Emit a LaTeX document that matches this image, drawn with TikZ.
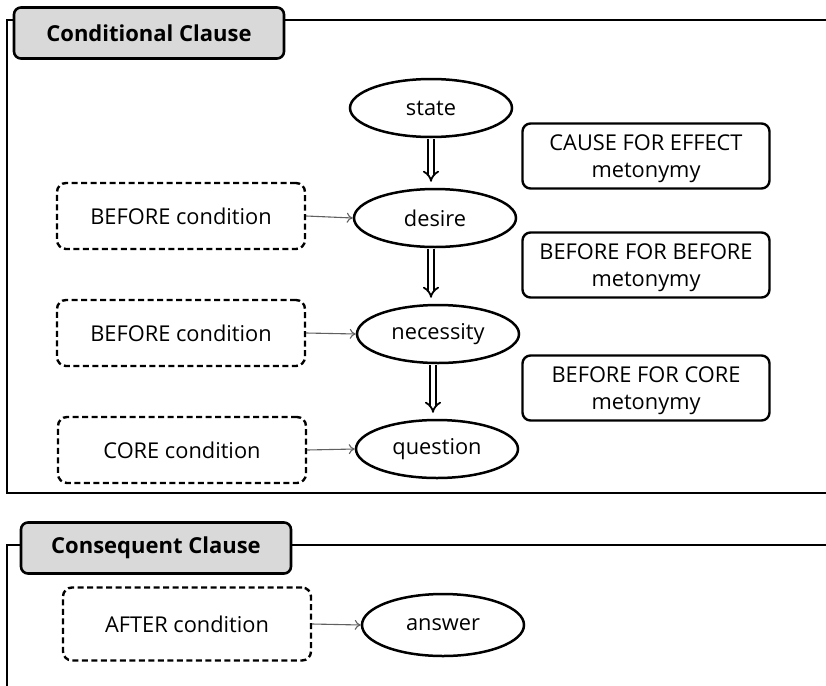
\documentclass[tikz,border=0pt]{standalone}
\usepackage{fontspec}
\setmainfont{Open Sans}
\usetikzlibrary{arrows.meta,shapes.geometric,calc}
\definecolor{titlegray}{HTML}{D9D9D9}
\definecolor{arrowgray}{HTML}{606060}
\begin{document}
\begin{tikzpicture}[x=1pt,y=-1pt,
  txt/.style={font=\fontsize{21.8}{27}\selectfont},
  titlebox/.style={draw, line width=2.6pt, rounded corners=7pt, fill=titlegray,
     minimum width=270pt, minimum height=51pt, inner sep=0pt,
     font=\fontsize{22}{26}\selectfont\bfseries},
  frame/.style={line width=2.8pt},
  oval/.style={ellipse, draw, line width=2.5pt, minimum width=162pt, minimum height=58pt, inner sep=0pt, txt},
  condbox/.style={draw, line width=2.4pt, dash pattern=on 6pt off 3.5pt, rounded corners=9pt,
     minimum width=248pt, minimum height=66pt, inner sep=0pt, txt},
  metobox/.style={draw, line width=2.4pt, rounded corners=8pt, minimum width=247pt, minimum height=65pt,
     inner sep=0pt, align=center, txt, text depth=0pt},
  thin/.style={draw=arrowgray, line width=1.1pt, -{To[length=6pt,width=10pt]}},
  dbl/.style={draw, line width=1.8pt, double distance=3.6pt, -{Implies[length=9pt,width=17pt]}, shorten >=6pt, shorten <=1pt}
]
\useasboundingbox (0,0) rectangle (826,685);

% Conditional clause frame
\coordinate (f1tl) at (7,20);
\coordinate (f1bl) at (7,493);
\coordinate (f1tr) at (826,20);
\coordinate (f1br) at (826,493);
\draw[frame] (f1tr) -- (f1tl) -- (f1bl) -- (f1br);
\node[titlebox] (t1) at (149,33) {Conditional Clause};

% Consequent clause frame
\coordinate (f2tl) at (7,545);
\coordinate (f2bl) at (7,690);
\coordinate (f2tr) at (826,545);
\draw[frame] (f2tr) -- (f2tl) -- (f2bl);
\node[titlebox] (t2) at (156,548) {Consequent Clause};

% ellipses
\node[oval] (state) at (431,108) {state};
\node[oval] (desire) at (435,218) {desire};
\node[oval] (necessity) at (438,334) {necessity};
\node[oval] (question) at (437,449) {question};
\node[oval, minimum height=62pt] (answer) at (443,625) {answer};

% conditions
\node[condbox] (c1) at (181,216) {BEFORE condition};
\node[condbox] (c2) at (181,333) {BEFORE condition};
\node[condbox] (c3) at (182,450) {CORE condition};
\node[condbox, minimum height=73pt] (c4) at (187,624) {AFTER condition};

% metonymy boxes
\node[metobox] (m1) at (646,156) {CAUSE FOR EFFECT\\metonymy};
\node[metobox] (m2) at (646,265) {BEFORE FOR BEFORE\\metonymy};
\node[metobox] (m3) at (646,388) {BEFORE FOR CORE\\metonymy};

% thin arrows
\draw[thin] (c1.east) -- (desire.west);
\draw[thin] (c2.east) -- (necessity.west);
\draw[thin] (c3.east) -- (question.west);
\draw[thin] (c4.east) -- (answer.west);

% double arrows
\draw[dbl] (state.south) -- (state.south |- desire.north);
\draw[dbl] ($(desire.south)+(-4,0)$) -- ($(desire.south |- necessity.north)+(-4,0)$);
\draw[dbl] ($(necessity.south)+(-5,0)$) -- ($(necessity.south |- question.north)+(-5,0)$);
\end{tikzpicture}
\end{document}
